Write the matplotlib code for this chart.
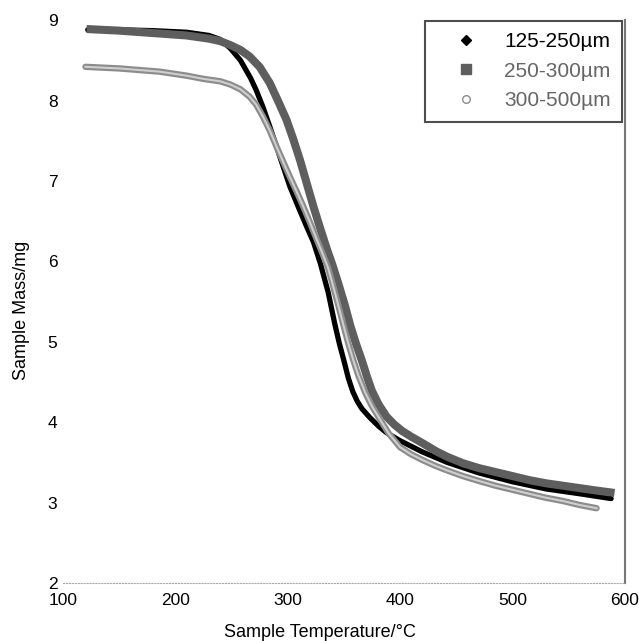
import matplotlib
matplotlib.use("Agg")
import matplotlib.pyplot as plt
from matplotlib.lines import Line2D

# ==========================================================
# Data
# ==========================================================

temp_125_250 = [122, 150, 180, 210, 230, 240, 249, 258, 267, 272, 278, 284,
                290, 296, 302, 310, 317, 323, 329, 336, 342, 346, 350, 354,
                358, 362, 366, 373, 381, 388, 400, 420, 442, 470, 500, 530,
                560, 588]
mass_125_250 = [8.88, 8.88, 8.87, 8.85, 8.81, 8.76, 8.65, 8.50, 8.28, 8.13,
                7.92, 7.68, 7.43, 7.18, 6.93, 6.66, 6.43, 6.24, 5.98, 5.62,
                5.22, 4.98, 4.77, 4.55, 4.38, 4.26, 4.17, 4.06, 3.95, 3.87,
                3.77, 3.63, 3.50, 3.37, 3.26, 3.17, 3.11, 3.05]

temp_250_300 = [121, 150, 180, 210, 230, 240, 249, 258, 266, 275, 284, 291,
                299, 305, 311, 317, 323, 329, 335, 340, 345, 351, 356, 361,
                366, 371, 375, 381, 388, 395, 402, 410, 420, 432, 442, 456,
                470, 485, 500, 515, 530, 545, 560, 575, 591]
mass_250_300 = [8.89, 8.87, 8.84, 8.81, 8.77, 8.74, 8.69, 8.63, 8.55, 8.42,
                8.22, 8.01, 7.76, 7.52, 7.26, 6.97, 6.68, 6.41, 6.15, 5.95,
                5.73, 5.45, 5.19, 4.97, 4.77, 4.55, 4.39, 4.22, 4.07, 3.97,
                3.89, 3.82, 3.74, 3.64, 3.57, 3.49, 3.43, 3.38, 3.33, 3.28,
                3.24, 3.21, 3.18, 3.15, 3.12]

temp_300_500 = [120, 150, 186, 210, 225, 240, 249, 258, 266, 272, 278, 284,
                290, 296, 302, 308, 314, 320, 326, 331, 336, 340, 345, 350,
                354, 358, 363, 369, 375, 382, 390, 400, 410, 420, 431, 442,
                456, 470, 485, 500, 515, 530, 545, 560, 575]
mass_300_500 = [8.42, 8.40, 8.36, 8.31, 8.27, 8.24, 8.20, 8.14, 8.05, 7.95,
                7.80, 7.63, 7.43, 7.24, 7.05, 6.87, 6.68, 6.48, 6.27, 6.10,
                5.92, 5.72, 5.46, 5.19, 4.98, 4.79, 4.58, 4.37, 4.20, 4.04,
                3.86, 3.69, 3.60, 3.53, 3.46, 3.40, 3.33, 3.27, 3.21, 3.16,
                3.11, 3.06, 3.02, 2.97, 2.93]

labels = ["125-250µm", "250-300µm", "300-500µm"]
x_ticks = [100, 200, 300, 400, 500, 600]
y_ticks = [2, 3, 4, 5, 6, 7, 8, 9]
grid_x = [400, 500]

# ==========================================================
# Figure
# ==========================================================

plt.rcParams["font.family"] = ["Liberation Sans", "DejaVu Sans"]

fig = plt.figure(figsize=(6.39, 6.41), dpi=100)
ax = fig.add_axes([0.0986, 0.0905, 0.8789, 0.878])

ax.plot(temp_125_250, mass_125_250, color="black", linewidth=3.8,
        solid_capstyle="round", solid_joinstyle="round", zorder=3)
ax.plot(temp_250_300, mass_250_300, color="#5e5e5e", linewidth=5.8,
        solid_capstyle="butt", solid_joinstyle="round", zorder=4)
ax.plot(temp_300_500, mass_300_500, color="#8c8c8c", linewidth=4.6,
        solid_capstyle="round", solid_joinstyle="round", zorder=5)
ax.plot(temp_300_500, mass_300_500, color="#cfcfcf", linewidth=1.5,
        solid_joinstyle="round", zorder=6)

ax.set_xlim(100, 600)
ax.set_ylim(2, 9)
ax.set_xticks(x_ticks)
ax.set_yticks(y_ticks)
ax.set_xticks(grid_x, minor=True)

ax.tick_params(axis="both", which="major", length=0, labelsize=12.5)
ax.tick_params(axis="x", which="major", pad=7)
ax.tick_params(axis="y", which="major", pad=4)
ax.tick_params(axis="x", which="minor", direction="in", length=8,
               width=1, color="#777777", top=True, bottom=True)

ax.xaxis.grid(True, which="minor", linestyle=":", color="#aaaaaa",
              linewidth=0.8)

ax.spines["top"].set_visible(False)
ax.spines["left"].set_visible(False)
ax.spines["bottom"].set_linestyle(":")
ax.spines["bottom"].set_color("#aaaaaa")
ax.spines["bottom"].set_linewidth(0.8)
ax.spines["right"].set_color("#777777")
ax.spines["right"].set_linewidth(1.5)

ax.set_xlabel("Sample Temperature/°C", fontsize=13)
ax.set_ylabel("Sample Mass/mg", fontsize=13)
ax.xaxis.set_label_coords(0.458, -0.072)
ax.yaxis.set_label_coords(-0.058, 0.485)

# ==========================================================
# Legend
# ==========================================================

handles = [
    Line2D([], [], linestyle="none", marker="D", markersize=5,
           color="black"),
    Line2D([], [], linestyle="none", marker="s", markersize=6.5,
           color="#5e5e5e"),
    Line2D([], [], linestyle="none", marker="o", markersize=5.5,
           markerfacecolor="white", markeredgecolor="#8c8c8c"),
]

leg = ax.legend(handles, labels, loc="upper right",
                bbox_to_anchor=(0.996, 0.999), borderaxespad=0,
                fontsize=15, frameon=True, fancybox=False,
                handlelength=2.8, handletextpad=0.45, labelspacing=0.5,
                borderpad=0.55)
leg.get_frame().set_edgecolor("#222222")
leg.get_frame().set_linewidth(1.5)
for txt, col in zip(leg.get_texts(), ["black", "#666666", "#666666"]):
    txt.set_color(col)
leg.set_zorder(10)

plt.savefig("out.png", dpi=100)
plt.close()
